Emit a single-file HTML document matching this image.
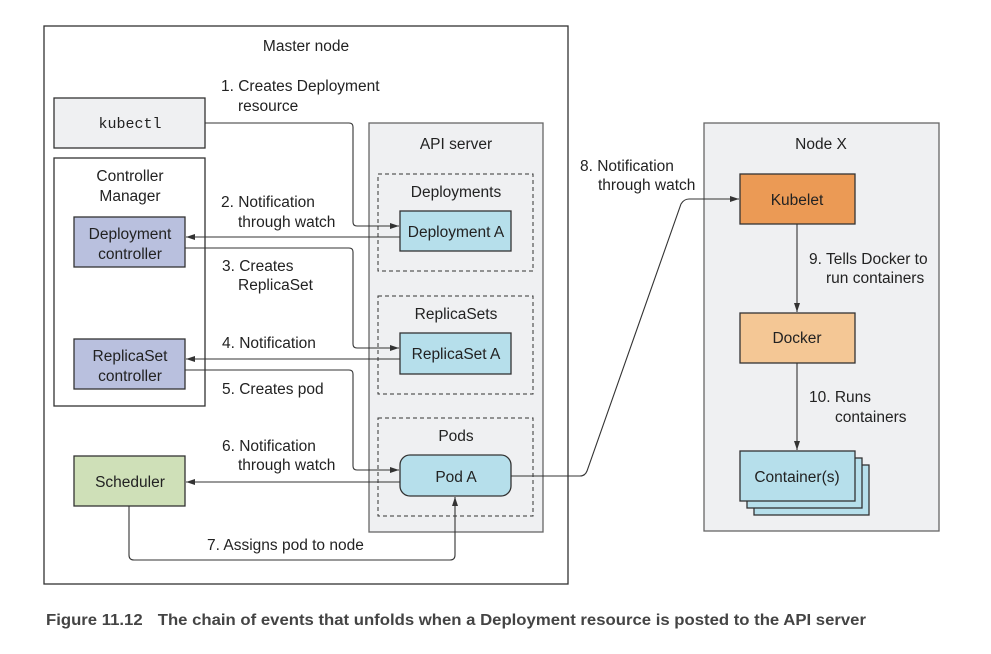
<!DOCTYPE html>
<html><head><style>body{margin:0;background:#fff}</style></head><body>
<svg width="991" height="649" viewBox="0 0 991 649" xmlns="http://www.w3.org/2000/svg" font-family="Liberation Sans, sans-serif" font-size="15.5" fill="#222">
<defs><marker id="a" markerWidth="10" markerHeight="8" refX="9" refY="4" orient="auto" markerUnits="userSpaceOnUse"><path d="M0,1 L9,4 L0,7 z" fill="#333"/></marker></defs>
<g stroke="#333" stroke-width="1.3">
<rect x="44" y="26" width="524" height="558" fill="#fff"/>
<rect x="54" y="98" width="151" height="50" fill="#eff0f2"/>
<rect x="54" y="158" width="151" height="248" fill="#fff"/>
<rect x="74" y="217" width="111" height="50" fill="#b9c0de"/>
<rect x="74" y="339" width="111" height="50" fill="#b9c0de"/>
<rect x="74" y="456" width="111" height="50" fill="#cfe0b8"/>
<rect x="369" y="123" width="174" height="409" fill="#eff0f2" stroke="#666"/>
<rect x="378" y="174" width="155" height="97" fill="none" stroke-dasharray="4,3" stroke-width="1"/>
<rect x="378" y="296" width="155" height="98" fill="none" stroke-dasharray="4,3" stroke-width="1"/>
<rect x="378" y="418" width="155" height="98" fill="none" stroke-dasharray="4,3" stroke-width="1"/>
<rect x="400" y="211" width="111" height="40" fill="#b6dfeb"/>
<rect x="400" y="333" width="111" height="41" fill="#b6dfeb"/>
<rect x="400" y="455" width="111" height="41" rx="10" fill="#b6dfeb"/>
<rect x="704" y="123" width="235" height="408" fill="#eff0f2" stroke="#666"/>
<rect x="740" y="174" width="115" height="50" fill="#eb9a55"/>
<rect x="740" y="313" width="115" height="50" fill="#f4c795"/>
<rect x="754" y="465" width="115" height="50" fill="#b6dfeb"/>
<rect x="747" y="458" width="115" height="50" fill="#b6dfeb"/>
<rect x="740" y="451" width="115" height="50" fill="#b6dfeb"/>
</g>
<g stroke="#333" stroke-width="1.1" fill="none" marker-end="url(#a)">
<path d="M205,123 H349 Q353,123 353,127 V222 Q353,226 357,226 H399"/>
<path d="M400,237 H186"/>
<path d="M185,248 H349 Q353,248 353,252 V344 Q353,348 357,348 H399"/>
<path d="M400,359 H186"/>
<path d="M185,370 H349 Q353,370 353,374 V466 Q353,470 357,470 H399"/>
<path d="M400,482 H186"/>
<path d="M129,506 V555 Q129,560 134,560 H450 Q455,560 455,555 V497"/>
<path d="M511,476 H580 Q585,476 587,471 L681,204 Q684,199 689,199 H739"/>
<path d="M797,224 V312"/>
<path d="M797,363 V450"/>
</g>
<g text-anchor="middle">
<text x="306" y="51">Master node</text>
<text x="130" y="128" font-family="Liberation Mono, monospace" font-size="15">kubectl</text>
<text x="130" y="181">Controller</text><text x="130" y="201">Manager</text>
<text x="130" y="239">Deployment</text><text x="130" y="259">controller</text>
<text x="130" y="361">ReplicaSet</text><text x="130" y="381">controller</text>
<text x="130" y="487">Scheduler</text>
<text x="456" y="149">API server</text>
<text x="456" y="197">Deployments</text>
<text x="456" y="237">Deployment A</text>
<text x="456" y="359">ReplicaSet A</text>
<text x="456" y="319">ReplicaSets</text>
<text x="456" y="441">Pods</text>
<text x="456" y="482">Pod A</text>
<text x="821" y="149">Node X</text>
<text x="797" y="205">Kubelet</text>
<text x="797" y="343">Docker</text>
<text x="797" y="482">Container(s)</text>
</g>
<text x="221" y="91">1. Creates Deployment</text><text x="238" y="111">resource</text>
<text x="221" y="207">2. Notification</text><text x="238" y="227">through watch</text>
<text x="222" y="271">3. Creates</text><text x="238" y="290">ReplicaSet</text>
<text x="222" y="348">4. Notification</text>
<text x="222" y="394">5. Creates pod</text>
<text x="222" y="451">6. Notification</text><text x="238" y="470">through watch</text>
<text x="207" y="550">7. Assigns pod to node</text>
<text x="580" y="171">8. Notification</text><text x="598" y="190">through watch</text>
<text x="809" y="264">9. Tells Docker to</text><text x="826" y="283">run containers</text>
<text x="809" y="402">10. Runs</text><text x="835" y="422">containers</text>
<text x="46" y="625" font-weight="bold" font-size="16" fill="#444" textLength="820" lengthAdjust="spacingAndGlyphs">Figure 11.12 <tspan dx="10">The chain of events that unfolds when a Deployment resource is posted to the API server</tspan></text>
</svg>
</body></html>
